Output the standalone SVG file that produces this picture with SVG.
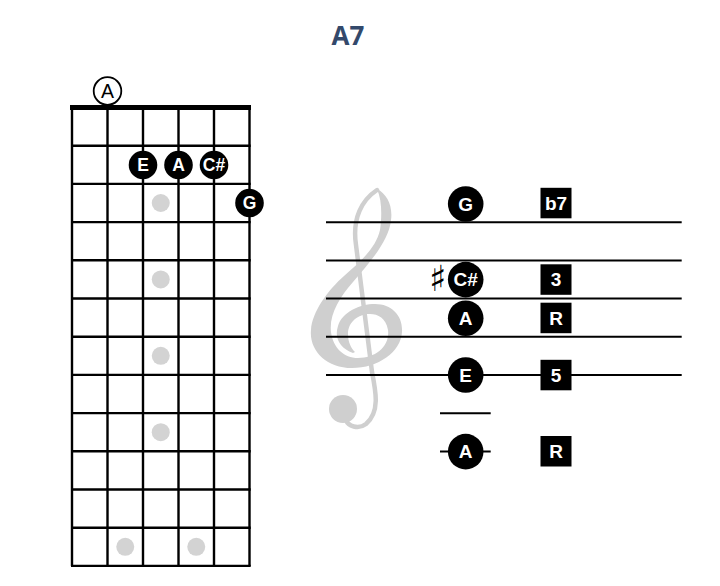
<svg xmlns="http://www.w3.org/2000/svg" width="720" height="586" viewBox="0 0 720 586">
<style>
.grid{stroke:#000;stroke-width:2.4;fill:none}
.staff{stroke:#000;stroke-width:2;fill:none}
.dot{fill:#d3d3d3}
.note{fill:#000}
.nt{fill:#fff;font-family:"Liberation Sans",Arial,sans-serif;font-weight:bold;text-anchor:middle}
.fn{font-size:17.5px}
.sn{font-size:19px}
.box{fill:#000}
.bt{fill:#fff;font-family:"Liberation Sans",Arial,sans-serif;font-weight:bold;font-size:19px;text-anchor:middle}
.clef{fill:#cfcfcf}
</style>
<rect width="720" height="586" fill="#fff"/>
<text x="348" y="45" font-family="'Open Sans','Liberation Sans',sans-serif" font-weight="bold" font-size="26" fill="#33496b" text-anchor="middle">A7</text>

<g id="fretboard">
  <g class="grid">
    <path d="M72,107.5V566M107.5,107.5V566M143,107.5V566M178.5,107.5V566M214,107.5V566M249.5,107.5V566"/>
    <path d="M71,145.7H250.7M71,183.9H250.7M71,222.1H250.7M71,260.3H250.7M71,298.5H250.7M71,336.7H250.7M71,374.9H250.7M71,413.1H250.7M71,451.3H250.7M71,489.5H250.7M71,527.7H250.7M71,565.9H250.7"/>
  </g>
  <path d="M70,107.5H251" stroke="#000" stroke-width="5"/>
  <g id="inlays">
    <circle class="dot" cx="160.75" cy="203" r="9"/>
    <circle class="dot" cx="160.75" cy="279.4" r="9"/>
    <circle class="dot" cx="160.75" cy="355.8" r="9"/>
    <circle class="dot" cx="160.75" cy="432.2" r="9"/>
    <circle class="dot" cx="125.25" cy="546.8" r="9"/>
    <circle class="dot" cx="196.25" cy="546.8" r="9"/>
  </g>
</g>

<g id="open-A">
  <circle cx="107.5" cy="91" r="13.8" fill="#fff" stroke="#000" stroke-width="1.8"/>
  <text x="107.5" y="98" font-family="'Liberation Sans',Arial,sans-serif" font-size="19.5" text-anchor="middle" fill="#000">A</text>
</g>
<g id="fb-E"><circle class="note" cx="143" cy="165" r="14.3"/><text class="nt fn" x="143" y="171.3">E</text></g>
<g id="fb-A"><circle class="note" cx="178.5" cy="165" r="14.3"/><text class="nt fn" x="178.5" y="171.3">A</text></g>
<g id="fb-Cs"><circle class="note" cx="214" cy="165" r="14.3"/><text class="nt fn" x="214" y="171.3">C#</text></g>
<g id="fb-G"><circle class="note" cx="249.5" cy="203" r="14.3"/><text class="nt fn" x="249.5" y="209.3">G</text></g>

<g id="clef">
  <path class="clef" d="M353,353 C340,348 334,338 338,326 C342,312 360,304 375,304 C392,304 403,316 402,332 C401,352 378,368 352,368 C326,368 309,350 311,330 C312,312 328,290 344,276 C360,262 376,248 380,230 C382,216 382,200 377,189 C387,194 393,206 391,220 C389,240 372,260 353,282 C339,298 329,315 331,332 C333,348 344,358 358,358 C376,358 390,346 388,330 C386,318 378,314 370,314 C358,314 348,322 348,334 C348,342 351,348 355,352 Z"/>
  <path d="M377,190 C362,200 352,218 356,245 L372,372 C376,392 380,412 366,424 C358,430 348,426 346,420" fill="none" stroke="#cfcfcf" stroke-width="4.5" stroke-linecap="round"/>
  <circle class="clef" cx="343" cy="409" r="14"/>
</g>

<g id="staff" class="staff">
  <path d="M326,222.3H681.7M326,260.6H681.7M326,298.6H681.7M326,336.8H681.7M326,375H681.7"/>
  <path d="M440,413.3H490.7M440,451.6H490.7"/>
</g>

<g id="st-G"><circle class="note" cx="465.7" cy="204" r="17.8"/><text class="nt sn" x="465.7" y="210.8">G</text></g>
<g id="st-Cs">
  <text x="438" y="291" font-family="'DejaVu Sans',sans-serif" font-size="36" text-anchor="middle" fill="#000">♯</text>
  <circle class="note" cx="465.7" cy="279.6" r="17.8"/><text class="nt sn" x="465.7" y="286.4">C#</text>
</g>
<g id="st-A"><circle class="note" cx="465.7" cy="318.2" r="17.8"/><text class="nt sn" x="465.7" y="325">A</text></g>
<g id="st-E"><circle class="note" cx="465.7" cy="375" r="17.8"/><text class="nt sn" x="465.7" y="381.8">E</text></g>
<g id="st-A-low"><circle class="note" cx="465.7" cy="451.6" r="17.8"/><text class="nt sn" x="465.7" y="458.4">A</text></g>

<g id="lbl-b7"><rect class="box" x="540.5" y="187.8" width="31" height="30.5"/><text class="bt" x="556" y="209.8">b7</text></g>
<g id="lbl-3"><rect class="box" x="540.5" y="264.3" width="31" height="30.5"/><text class="bt" x="556" y="286.3">3</text></g>
<g id="lbl-R1"><rect class="box" x="540.5" y="302.7" width="31" height="30.5"/><text class="bt" x="556" y="324.7">R</text></g>
<g id="lbl-5"><rect class="box" x="540.5" y="359.8" width="31" height="30.5"/><text class="bt" x="556" y="381.8">5</text></g>
<g id="lbl-R2"><rect class="box" x="540.5" y="436" width="31" height="30.5"/><text class="bt" x="556" y="458">R</text></g>
</svg>
